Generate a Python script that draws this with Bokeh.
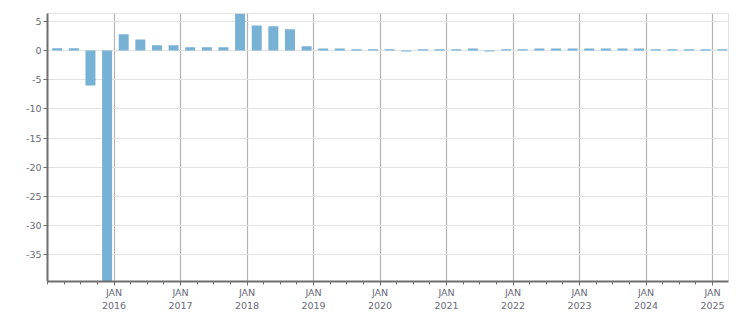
from bokeh.plotting import figure
from bokeh.models import FixedTicker, Range1d
from bokeh.embed import file_html
from bokeh.resources import INLINE

years = [2015]*4 + [2016]*4 + [2017]*4 + [2018]*4 + [2019]*4 + [2020]*4 + [2021]*4 + [2022]*4 + [2023]*4 + [2024]*4 + [2025]
quarters = [1, 2, 3, 4]*10 + [1]
values = [0.4, 0.4, -6.0, -45.0,
          2.8, 1.9, 0.9, 0.9,
          0.55, 0.55, 0.55, 6.3,
          4.3, 4.15, 3.65, 0.75,
          0.35, 0.35, 0.2, 0.2,
          0.2, -0.15, 0.2, 0.2,
          0.2, 0.35, -0.15, 0.2,
          0.2, 0.35, 0.35, 0.35,
          0.35, 0.35, 0.35, 0.35,
          0.2, 0.2, 0.2, 0.2,
          0.2]
tick_years = list(range(2016, 2026))
y_ticks = [5, 0, -5, -10, -15, -20, -25, -30, -35]

# bar date ~ mid-quarter position
x = [y + (q - 1) / 4 + 0.146 for y, q in zip(years, quarters)]

p = figure(width=751, height=313, output_backend="svg", toolbar_location=None,
           x_range=Range1d(2015.0, 2025.24), y_range=Range1d(-39.6, 6.35),
           min_border_left=47, min_border_right=23, min_border_top=13, min_border_bottom=32)
p.vbar(x=x, top=values, bottom=0, width=0.15, color="#77b1d4", line_color=None)

p.outline_line_color = "#e2e2e2"
p.background_fill_color = "white"
p.border_fill_color = "white"

p.xaxis.ticker = FixedTicker(ticks=tick_years, minor_ticks=[2015 + i / 4 for i in range(42)])
p.xaxis.major_label_overrides = {yr: "JAN\n%d" % yr for yr in tick_years}
p.yaxis.ticker = FixedTicker(ticks=y_ticks)
p.yaxis.major_label_overrides = {v: "%d" % v for v in y_ticks}

for ax in (p.xaxis, p.yaxis):
    ax.axis_line_color = "#6e6e6e"
    ax.axis_line_width = 2
    ax.major_tick_line_color = "#6e6e6e"
    ax.minor_tick_line_color = "#6e6e6e"
    ax.major_label_text_font = "DejaVu Sans"
    ax.major_label_text_font_size = "9.5px"
    ax.major_label_text_color = "#6a6a7a"
p.xaxis.major_tick_out = 4
p.xaxis.major_tick_in = 0
p.xaxis.minor_tick_out = 3
p.xaxis.minor_tick_in = 0
p.xaxis.major_label_standoff = 1
p.yaxis.major_tick_out = 4
p.yaxis.major_tick_in = 0
p.yaxis.minor_tick_line_color = None
p.yaxis.major_label_standoff = 2

p.xgrid.grid_line_color = "#b4b4b4"
p.xgrid.grid_line_width = 1.2
p.ygrid.grid_line_color = "#e2e2e2"
p.ygrid.grid_line_width = 1.2

open("out.html", "w").write(file_html(p, INLINE))
